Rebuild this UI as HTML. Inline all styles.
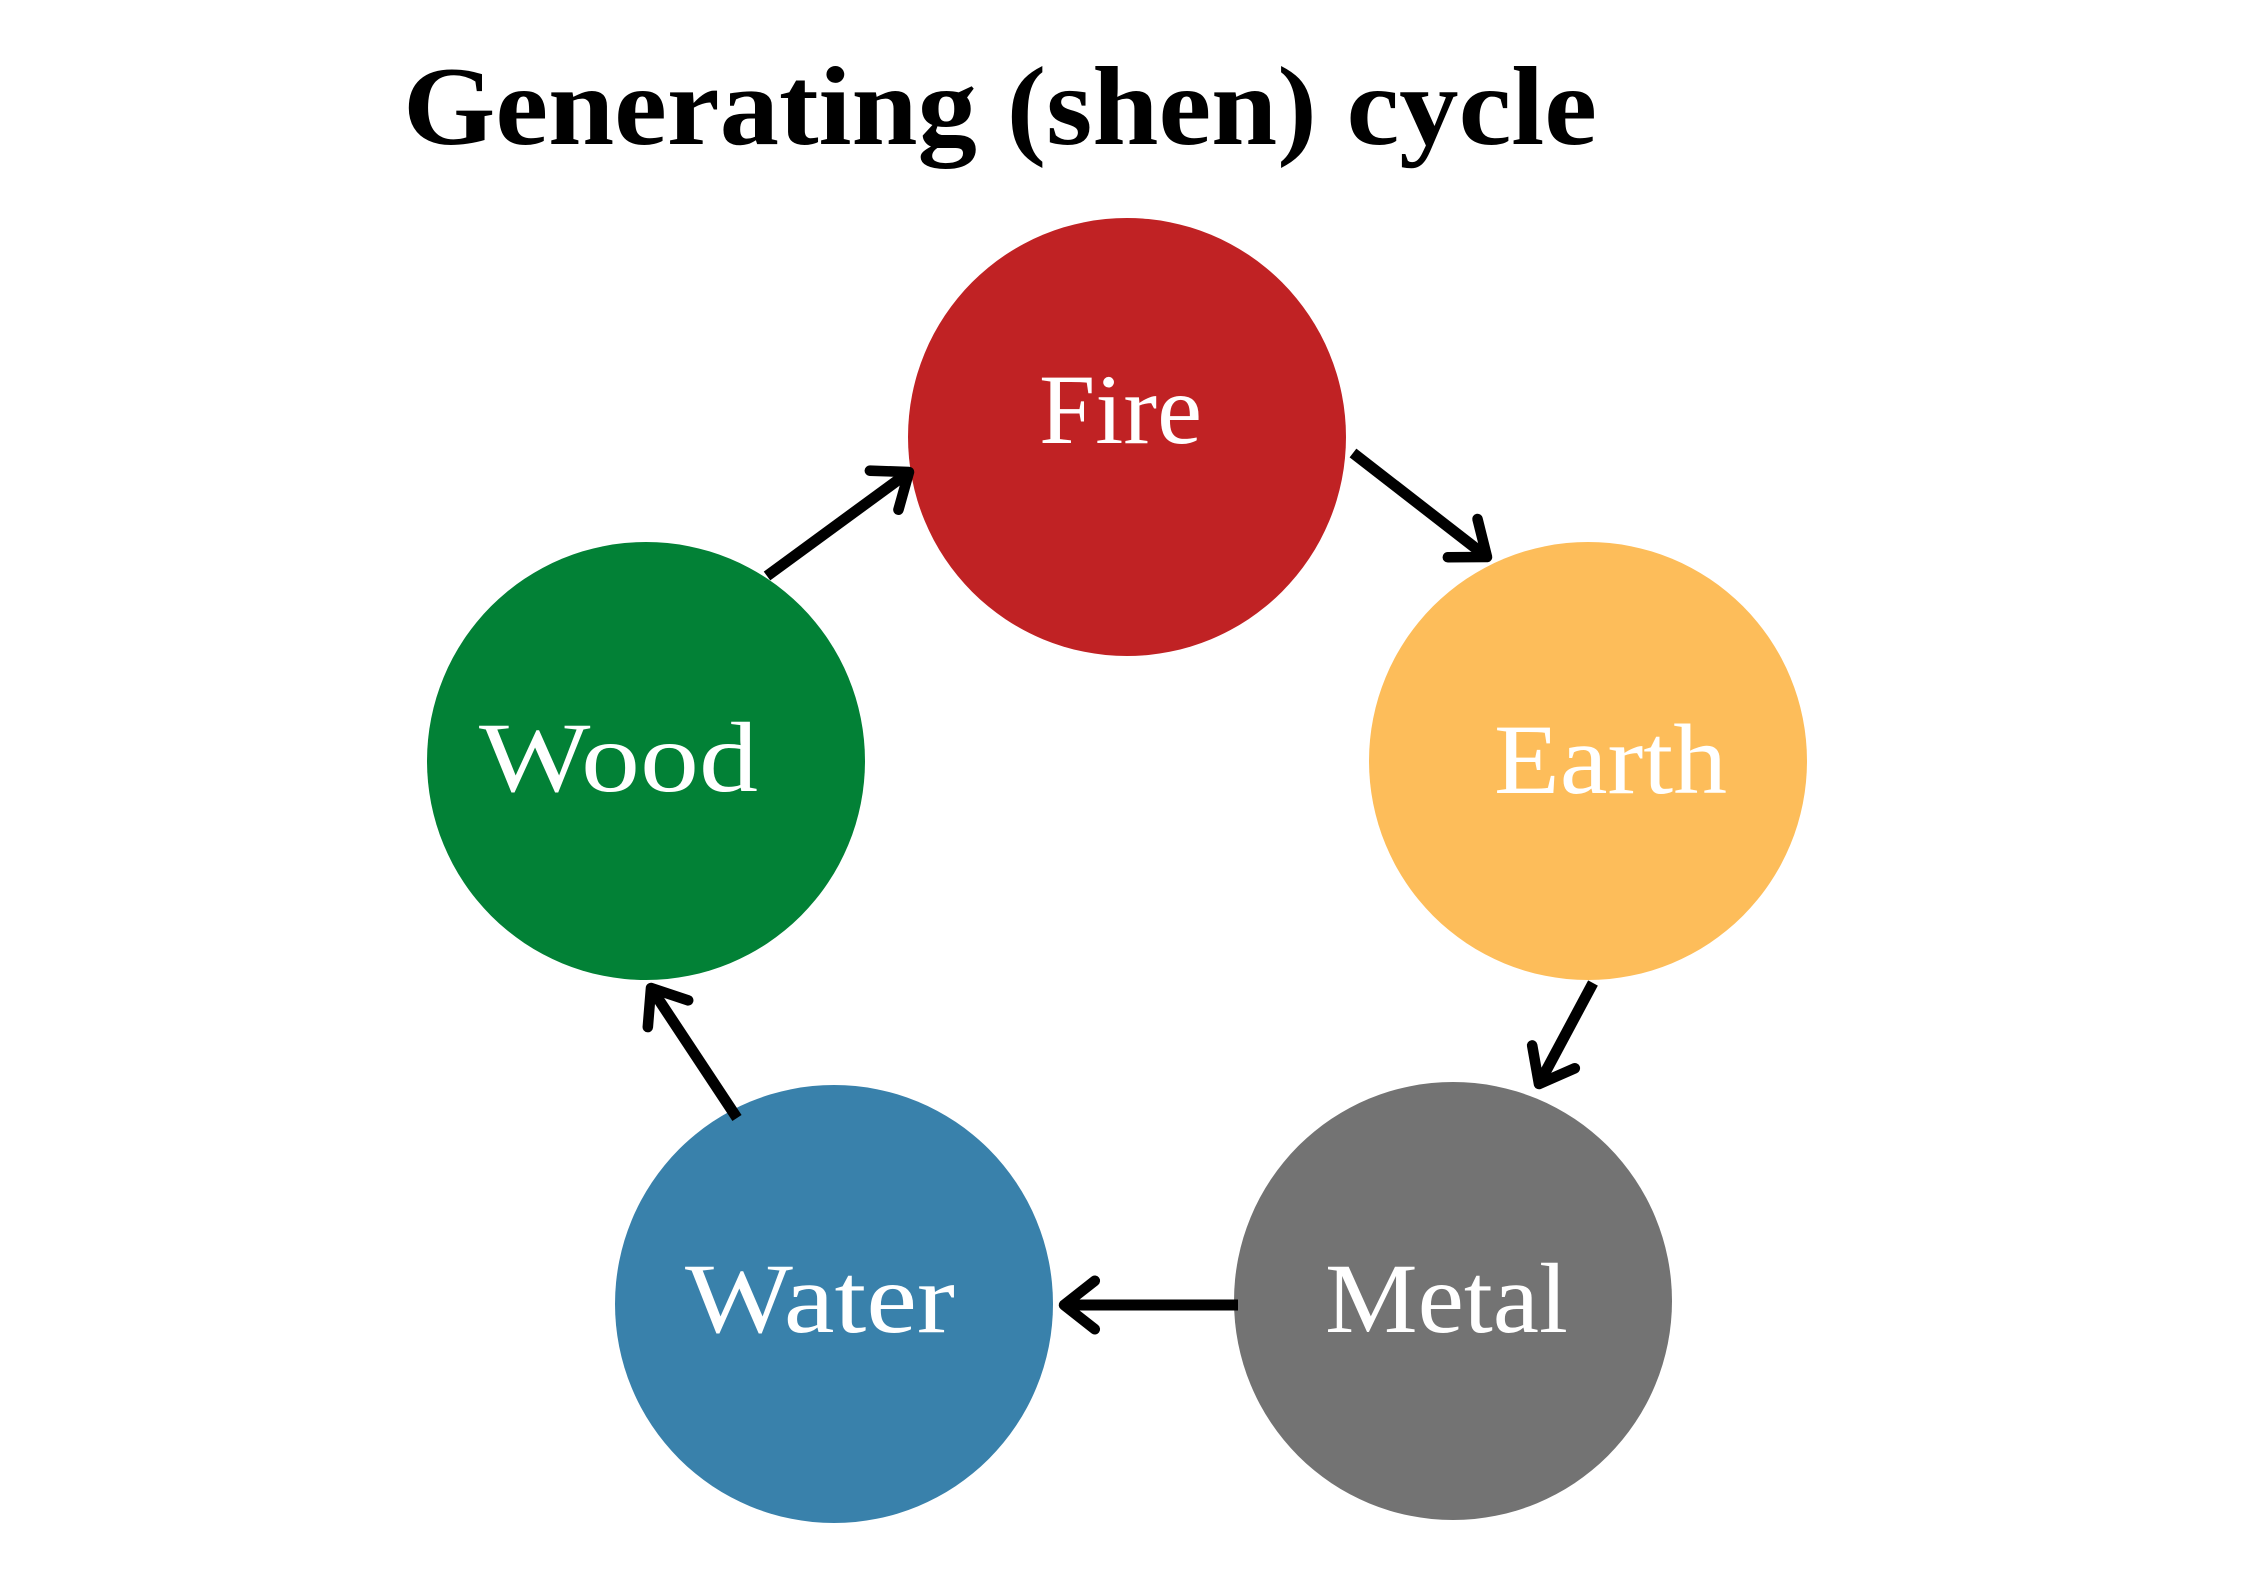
<!DOCTYPE html>
<html><head><meta charset="utf-8"><style>html,body{margin:0;padding:0;background:#fff}svg{display:block}</style></head>
<body>
<svg width="2245" height="1587" viewBox="0 0 2245 1587" xmlns="http://www.w3.org/2000/svg">
<defs>
<marker id="a" viewBox="-10 -10 20 20" markerWidth="8" markerHeight="8" refX="0" refY="0" orient="auto" markerUnits="strokeWidth">
<polyline points="-7,-5.5 0,0 -7,5.5" fill="none" stroke="#000" stroke-width="2.4" stroke-linecap="round" stroke-linejoin="round"/>
</marker>
</defs>
<text x="403" y="144" font-family="Liberation Serif, serif" font-weight="bold" font-size="112" textLength="1194" lengthAdjust="spacingAndGlyphs">Generating (shen) cycle</text>
<circle cx="1127" cy="437" r="219" fill="#c02224"/>
<circle cx="1588" cy="761" r="219" fill="#fdbd5a"/>
<circle cx="646" cy="761" r="219" fill="#028136"/>
<circle cx="834" cy="1304" r="219" fill="#3981ab"/>
<circle cx="1453" cy="1301" r="219" fill="#737373"/>
<g font-family="Liberation Serif, serif" font-size="100" fill="#fff">
<text x="1039" y="443" textLength="163" lengthAdjust="spacingAndGlyphs">Fire</text>
<text x="1494" y="793" textLength="233" lengthAdjust="spacingAndGlyphs">Earth</text>
<text x="479" y="791" textLength="279" lengthAdjust="spacingAndGlyphs">Wood</text>
<text x="685" y="1332" textLength="270" lengthAdjust="spacingAndGlyphs">Water</text>
<text x="1325" y="1332" textLength="243" lengthAdjust="spacingAndGlyphs">Metal</text>
</g>
<g stroke="#000" stroke-width="11" fill="none" marker-end="url(#a)">
<line x1="1353" y1="453" x2="1487" y2="557"/>
<line x1="1593" y1="983" x2="1539" y2="1084"/>
<line x1="1238" y1="1305" x2="1064" y2="1305"/>
<line x1="737" y1="1118" x2="651" y2="988"/>
<line x1="767" y1="576" x2="909" y2="472"/>
</g>
</svg>
</body></html>
